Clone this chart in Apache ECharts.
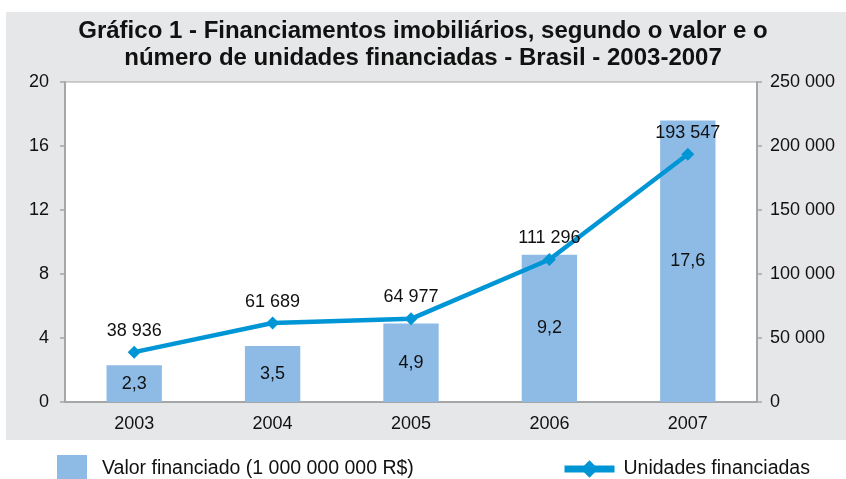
<!DOCTYPE html>
<html>
<head>
<meta charset="utf-8">
<script src="https://cdn.jsdelivr.net/npm/echarts@6/dist/echarts.min.js"></script>
<style>
html, body { margin: 0; padding: 0; background: #fff; }
#chart { width: 846px; height: 479px; }
</style>
</head>
<body>
<div id="chart"></div>
<script>
var anos = ['2003', '2004', '2005', '2006', '2007'];
var valorFinanciado = [2.3, 3.5, 4.9, 9.2, 17.6];
var unidadesFinanciadas = [38936, 61689, 64977, 111296, 193547];

function milhar(v) {
	return String(v).replace(/\B(?=(\d{3})+(?!\d))/g, ' ');
}

var dom = document.getElementById('chart');
var myChart = echarts.init(dom);
var fonte = 'Liberation Sans, Arial, sans-serif';

var option = {
	backgroundColor: '#ffffff',
	animation: false,
	textStyle: { fontFamily: fonte, color: '#000' },
	graphic: [{
		type: 'rect',
		z: -10,
		shape: { x: 6, y: 12, width: 840, height: 428 },
		style: { fill: '#e6e7e9' }
	}],
	title: {
		text: 'Gráfico 1 - Financiamentos imobiliários, segundo o valor e o\nnúmero de unidades financiadas - Brasil - 2003-2007',
		left: 'center',
		top: 13,
		textStyle: {
			fontFamily: fonte,
			fontSize: 24,
			fontWeight: 'bold',
			lineHeight: 27,
			color: '#111'
		}
	},
	legend: [{
		data: ['Valor financiado (1 000 000 000 R$)'],
		left: 57,
		top: 455,
		padding: 0,
		itemWidth: 30,
		itemHeight: 28,
		icon: 'rect',
		textStyle: { fontFamily: fonte, fontSize: 19.5, color: '#111', padding: [0, 0, 0, 10] }
	}, {
		data: ['Unidades financiadas'],
		left: 561,
		top: 459,
		padding: 0,
		itemWidth: 50,
		itemHeight: 22,
		lineStyle: { width: 7 },
		textStyle: { fontFamily: fonte, fontSize: 19.5, color: '#111', padding: [0, 0, 0, 4] }
	}],
	grid: {
		left: 65,
		right: 89,
		top: 82,
		bottom: 77,
		show: true,
		backgroundColor: '#ffffff',
		borderColor: '#a6a6a6',
		borderWidth: 1
	},
	xAxis: {
		type: 'category',
		data: anos,
		axisLine: { lineStyle: { color: '#a6a6a6', width: 2 } },
		axisTick: { length: 6, lineStyle: { color: '#a6a6a6', width: 1.5 } },
		axisLabel: { fontSize: 18, color: '#111', margin: 13 }
	},
	yAxis: [{
		type: 'value',
		min: 0,
		max: 20,
		interval: 4,
		splitLine: { show: false },
		axisLine: { show: true, lineStyle: { color: '#a6a6a6', width: 2 } },
		axisTick: { show: true, length: 5, lineStyle: { color: '#a6a6a6', width: 1.5 } },
		axisLabel: { fontSize: 18, color: '#111', margin: 16 }
	}, {
		type: 'value',
		min: 0,
		max: 250000,
		interval: 50000,
		splitLine: { show: false },
		axisLine: { show: true, lineStyle: { color: '#a6a6a6', width: 2 } },
		axisTick: { show: true, length: 5, lineStyle: { color: '#a6a6a6', width: 1.5 } },
		axisLabel: {
			fontSize: 18,
			color: '#111',
			margin: 13,
			formatter: function (v) { return milhar(v); }
		}
	}],
	series: [{
		name: 'Valor financiado (1 000 000 000 R$)',
		type: 'bar',
		data: valorFinanciado,
		barWidth: '40%',
		itemStyle: { color: '#8ebbe6' },
		label: {
			show: true,
			position: 'inside',
			fontSize: 18,
			color: '#111',
			formatter: function (p) { return String(p.value).replace('.', ','); }
		}
	}, {
		name: 'Unidades financiadas',
		type: 'line',
		yAxisIndex: 1,
		data: unidadesFinanciadas,
		symbol: 'diamond',
		symbolSize: 13,
		lineStyle: { color: '#0096d6', width: 4.5 },
		itemStyle: { color: '#0096d6' },
		label: {
			show: true,
			position: 'top',
			distance: 6,
			fontSize: 18,
			color: '#111',
			formatter: function (p) { return milhar(p.value); }
		},
		z: 5
	}]
};

myChart.setOption(option, true);
</script>
</body>
</html>
